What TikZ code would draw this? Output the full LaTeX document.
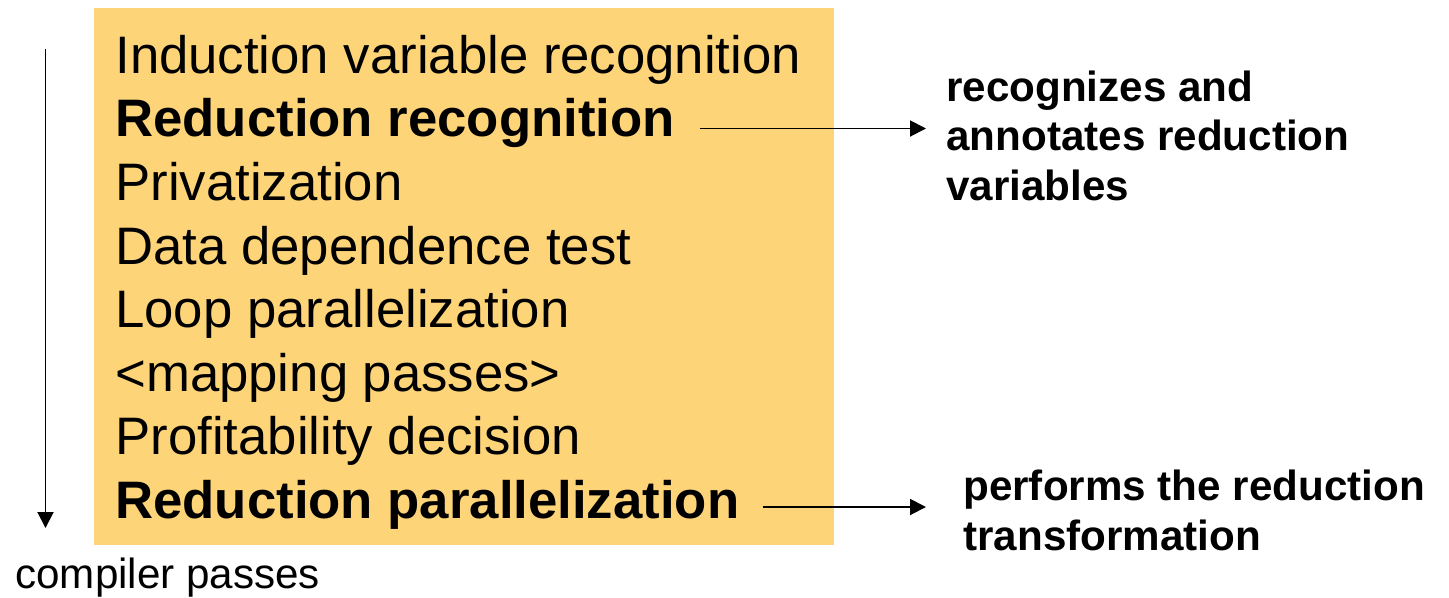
\documentclass[tikz,border=0pt]{standalone}
\usepackage{fontspec}
\setmainfont{Liberation Sans}
\usetikzlibrary{arrows.meta}
\definecolor{passbg}{HTML}{FED479}
\begin{document}
\begin{tikzpicture}[>={Triangle[length=0.32cm,width=0.32cm]},
  pass/.style={anchor=base west, inner sep=0pt, font=\fontsize{30}{36}\selectfont},
  keypass/.style={pass, font=\fontsize{30}{36}\selectfont\bfseries},
  note/.style={anchor=base west, inner sep=0pt, align=left, font=\fontsize{24}{27.9}\selectfont\bfseries},
  link/.style={->, line width=1.1pt}]
\useasboundingbox (0,0) rectangle (28.98,-11.94);
\fill[passbg] (1.88,-0.16) rectangle (16.68,-10.90);
\node[pass] (p1) at (2.30,-1.46) {Induction variable recognition};
\node[keypass] (p2) at (2.30,-2.73) {Reduction recognition};
\node[pass] (p3) at (2.30,-4.00) {Privatization};
\node[pass] (p4) at (2.30,-5.28) {Data dependence test};
\node[pass] (p5) at (2.30,-6.55) {Loop parallelization};
\node[pass] (p6) at (2.30,-7.82) {<mapping passes>};
\node[pass] (p7) at (2.30,-9.09) {Profitability decision};
\node[keypass] (p8) at (2.30,-10.36) {Reduction parallelization};
\node[note] (n1) at (18.92,-4.00) {recognizes and\\annotates reduction\\variables};
\node[note] (n2) at (19.26,-11.00) {performs the reduction\\transformation};
\node[anchor=base west, inner sep=0pt, font=\fontsize{24}{28}\selectfont] (cp) at (0.30,-11.76) {compiler passes};
% arrows to the notes
\coordinate (a1) at ([xshift=0.5cm,yshift=0.16cm]p2.base east);
\coordinate (a2) at ([xshift=0.46cm,yshift=0.22cm]p8.base east);
\draw[link, shorten >=0.4cm] (a1) -- (a1 -| n1.west);
\draw[link, shorten >=0.74cm] (a2) -- (a2 -| n2.west);
% order of the passes
\coordinate (f1) at (0.91,-0.98);
\coordinate (f2) at (0.91,-10.56);
\draw[link] (f1) -- (f2);
\end{tikzpicture}
\end{document}
